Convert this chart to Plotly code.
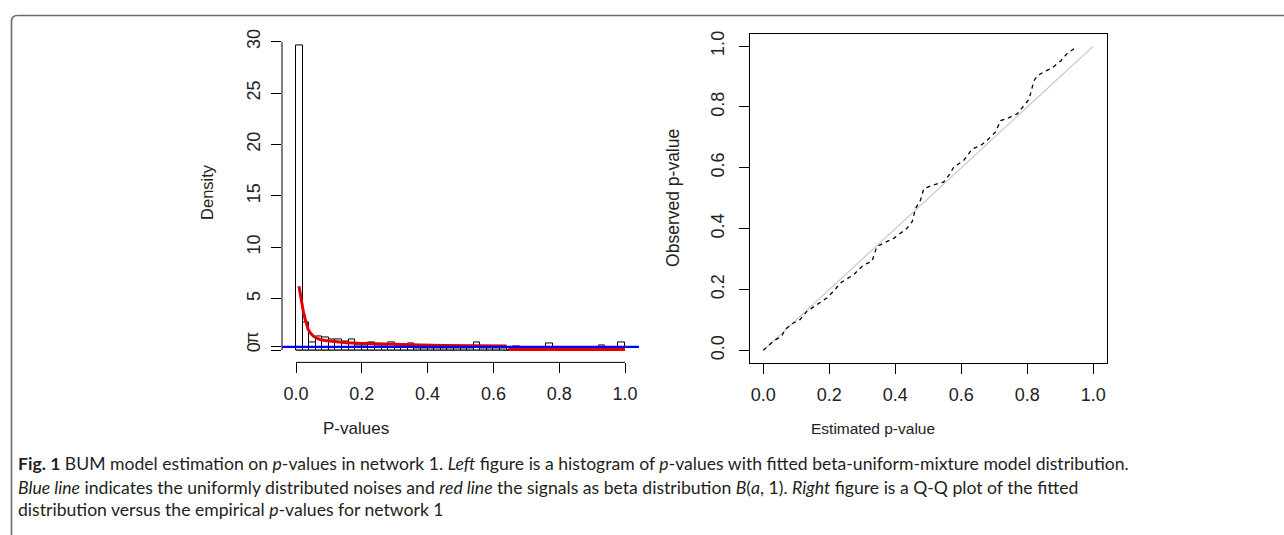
import numpy as np
import plotly.graph_objects as go

W, H = 1284, 535

# ---------------- data ----------------
bin_width = 0.02
hist_density = [29.65, 2.7, 0.7, 1.3, 1.2, 1.0, 1.0, 0.8, 1.0, 0.4,
                0.4, 0.7, 0.4, 0.4, 0.7, 0.4, 0.4, 0.6, 0.15, 0.15,
                0.15, 0.15, 0.15, 0.15, 0.15, 0.15, 0.15, 0.7, 0.15, 0.15,
                0.15, 0.15, 0.0, 0.35, 0.0, 0.0, 0.0, 0.0, 0.65, 0.0,
                0.0, 0.0, 0.0, 0.0, 0.0, 0.0, 0.4, 0.0, 0.0, 0.75]
bin_left = [i * bin_width for i in range(len(hist_density))]
bin_centers = [b + bin_width / 2 for b in bin_left]

red_x = [0.009, 0.012, 0.017, 0.022, 0.027, 0.032, 0.037, 0.045, 0.053, 0.063,
         0.073, 0.088, 0.103, 0.13, 0.154, 0.19, 0.225, 0.3, 0.377, 0.45,
         0.55, 0.64, None, 0.645, 1.0]
red_y = [6.2, 5.6, 4.7, 3.8, 3.1, 2.5, 2.0, 1.6, 1.35, 1.15,
         1.03, 0.93, 0.87, 0.78, 0.71, 0.65, 0.61, 0.53, 0.48, 0.45,
         0.42, 0.40, None, 0.06, 0.06]
pi_hat = 0.3

left_yticks = [0, 5, 10, 15, 20, 25, 30]
xticks = [0.0, 0.2, 0.4, 0.6, 0.8, 1.0]
xtick_text = ["0.0", "0.2", "0.4", "0.6", "0.8", "1.0"]

qq_est = [0.0, 0.030, 0.056, 0.066, 0.091, 0.111, 0.132, 0.162, 0.192, 0.213,
          0.233, 0.273, 0.304, 0.329, 0.344, 0.364, 0.395, 0.435, 0.451, 0.461,
          0.476, 0.486, 0.511, 0.546, 0.562, 0.577, 0.607, 0.633, 0.658, 0.678,
          0.703, 0.719, 0.739, 0.769, 0.794, 0.805, 0.820, 0.830, 0.850, 0.876,
          0.901, 0.921, 0.951]
qq_obs = [0.0, 0.030, 0.047, 0.069, 0.090, 0.101, 0.128, 0.150, 0.172, 0.194,
          0.221, 0.248, 0.281, 0.292, 0.341, 0.352, 0.368, 0.401, 0.423, 0.466,
          0.493, 0.531, 0.542, 0.553, 0.575, 0.602, 0.624, 0.662, 0.673, 0.690,
          0.717, 0.755, 0.762, 0.777, 0.809, 0.825, 0.886, 0.902, 0.915, 0.929,
          0.951, 0.976, 0.998]
ref_line = [0.0, 1.0]
right_yticks = [0.0, 0.2, 0.4, 0.6, 0.8, 1.0]
right_ytext = ["0.0", "0.2", "0.4", "0.6", "0.8", "1.0"]

caption_lines = [
    "<b>Fig. 1</b> BUM model estimation on <i>p</i>-values in network 1. <i>Left</i> figure is a histogram of <i>p</i>-values with fitted beta-uniform-mixture model distribution.",
    "<i>Blue line</i> indicates the uniformly distributed noises and <i>red line</i> the signals as beta distribution <i>B</i>(<i>a</i>, 1). <i>Right</i> figure is a Q-Q plot of the fitted",
    "distribution versus the empirical <i>p</i>-values for network 1",
]

# ---------------- helpers ----------------
def px(x):
    return x / W

def py(y):
    return 1 - y / H

SANS = "Liberation Sans, Arial, sans-serif"
AX_FONT = dict(family=SANS, size=18, color="#222")
CAP_FONT = dict(family="Lato, Open Sans, sans-serif", size=17.6, color="#231f20")

fig = go.Figure()

# histogram
fig.add_trace(go.Bar(x=bin_centers, y=hist_density, width=bin_width,
                     marker=dict(color="white", line=dict(color="black", width=1)),
                     xaxis="x", yaxis="y", showlegend=False, hoverinfo="skip"))
# red fitted curve
fig.add_trace(go.Scatter(x=red_x, y=red_y, mode="lines",
                         line=dict(color="#E00000", width=3),
                         xaxis="x", yaxis="y", showlegend=False, hoverinfo="skip"))

# QQ plot
fig.add_trace(go.Scatter(x=ref_line, y=ref_line, mode="lines",
                         line=dict(color="#C8C8C8", width=1.2),
                         xaxis="x2", yaxis="y2", showlegend=False, hoverinfo="skip"))
fig.add_trace(go.Scatter(x=qq_est, y=qq_obs, mode="lines",
                         line=dict(color="black", width=1.3, dash="4px,4px"),
                         xaxis="x2", yaxis="y2", showlegend=False, hoverinfo="skip"))

common_axis = dict(showgrid=False, zeroline=False, ticks="outside", ticklen=10,
                   tickwidth=1, tickcolor="black", tickfont=AX_FONT)

fig.update_layout(
    width=W, height=H, margin=dict(l=0, r=0, t=0, b=0),
    paper_bgcolor="white", plot_bgcolor="white",
    bargap=0,
    xaxis=dict(domain=[px(282), px(639)], range=[-0.04255, 1.04255], anchor="y",
               showline=False, tickvals=xticks, ticktext=xtick_text,
               ticklabelstandoff=5, **common_axis),
    yaxis=dict(domain=[py(361.4), py(26.6)], range=[-1.2, 31.2], anchor="x",
               showline=False, tickvals=left_yticks + [pi_hat],
               ticktext=[str(v) for v in left_yticks] + [""], tickangle=-90,
               ticklabelstandoff=4, **common_axis),
    xaxis2=dict(domain=[px(750), px(1106.7)], range=[-0.0404, 1.0404], anchor="y2",
                showline=True, mirror=True, linecolor="black", linewidth=1,
                tickvals=xticks, ticktext=xtick_text, ticklabelstandoff=5, **common_axis),
    yaxis2=dict(domain=[py(362.3), py(30.7)], range=[-0.0425, 1.0412], anchor="x2",
                showline=True, mirror=True, linecolor="black", linewidth=1,
                tickvals=right_yticks, ticktext=right_ytext, tickangle=-90,
                ticklabelstandoff=8, **common_axis),
)

shapes = []
# R-style detached axis lines for the histogram panel
shapes.append(dict(type="line", xref="x", yref="y domain", x0=xticks[0], x1=xticks[-1],
                   y0=0, y1=0, line=dict(color="black", width=1)))
shapes.append(dict(type="line", xref="x domain", yref="y", x0=0, x1=0,
                   y0=left_yticks[0], y1=left_yticks[-1], line=dict(color="black", width=1)))
# zero-height bins baseline
shapes.append(dict(type="line", xref="x", yref="y", x0=bin_left[0], x1=bin_left[-1] + bin_width,
                   y0=0, y1=0, line=dict(color="black", width=1), layer="below"))
# blue uniform line
shapes.append(dict(type="line", xref="x domain", yref="y", x0=0, x1=1, y0=pi_hat, y1=pi_hat,
                   line=dict(color="#0000FF", width=2.2), layer="above"))
# outer rounded border
r = 6
bx, by = px(11.5), py(12.5)
path = (f"M {bx},{py(535)} L {bx},{py(12.5 + r)} "
        f"Q {bx},{by} {px(11.5 + r)},{by} L 1,{by}")
shapes.append(dict(type="path", xref="paper", yref="paper", path=path,
                   line=dict(color="#6a6a6a", width=1.6)))
fig.update_layout(shapes=shapes)

def label(text, x, y, size, angle=0):
    return dict(text=text, xref="paper", yref="paper", x=px(x), y=py(y),
                xanchor="center", yanchor="middle", showarrow=False,
                textangle=angle, font=dict(family=SANS, size=size, color="#222"))

ann = []
ann.append(dict(text="π", xref="paper", yref="y", x=px(252), y=pi_hat, yshift=9,
                showarrow=False, textangle=-90, font=AX_FONT, xanchor="center", yanchor="middle"))
ann.append(label("Density", 207, 190, 16.5, -90))
ann.append(label("P-values", 356, 428, 17))
ann.append(label("Observed p-value", 673, 196, 17.5, -90))
ann.append(label("Estimated p-value", 873, 428, 15.5))
for line, yc in zip(caption_lines, [463, 487, 509]):
    ann.append(dict(text=line, xref="paper", yref="paper", x=px(16), y=py(yc),
                    xanchor="left", yanchor="middle", showarrow=False, font=CAP_FONT))
fig.update_layout(annotations=ann)

fig.write_html("out.html", config={"displayModeBar": False},
               post_script="document.body.style.margin='0';")
